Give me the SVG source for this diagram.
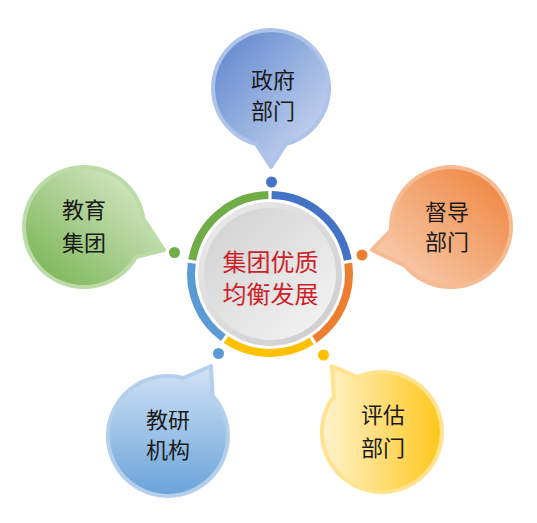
<svg xmlns="http://www.w3.org/2000/svg" width="537" height="523" viewBox="0 0 537 523">
<style>
.lbl{font-family:"Noto Sans CJK SC","Noto Sans",sans-serif;font-size:22px;fill:#1a1a1a;text-anchor:middle}
.ctr{font-family:"Noto Sans CJK SC","Noto Sans",sans-serif;font-size:24px;fill:#cc1f2a;text-anchor:middle}
.bub{stroke-width:4;stroke-linejoin:round}
.seg{fill:none;stroke-width:8}
</style>
<defs>
<linearGradient id="gBlue" x1="0" y1="0" x2="1" y2="1"><stop offset="0" stop-color="#5b82cc"/><stop offset="1" stop-color="#d6e1f4"/></linearGradient>
<linearGradient id="gOrange" x1="1" y1="0" x2="0" y2="1"><stop offset="0" stop-color="#ee8138"/><stop offset="1" stop-color="#f9d6bd"/></linearGradient>
<linearGradient id="gGreen" x1="0" y1="1" x2="1" y2="0"><stop offset="0" stop-color="#73b04a"/><stop offset="1" stop-color="#e2f0d8"/></linearGradient>
<linearGradient id="gLBlue" x1="0" y1="0" x2="0" y2="1"><stop offset="0" stop-color="#d2e3f4"/><stop offset="1" stop-color="#6aa3da"/></linearGradient>
<linearGradient id="gYellow" x1="0" y1="0" x2="1" y2="0"><stop offset="0" stop-color="#fff3cf"/><stop offset="1" stop-color="#ffc71a"/></linearGradient>
<linearGradient id="gRim" x1="0" y1="0" x2="1" y2="1"><stop offset="0" stop-color="#ececec"/><stop offset="1" stop-color="#cbcbcb"/></linearGradient>
<linearGradient id="gFace" x1="0" y1="0" x2="1" y2="1"><stop offset="0" stop-color="#cfcfcf"/><stop offset="1" stop-color="#f6f6f6"/></linearGradient>
</defs>

<g id="connectors">
<circle cx="271.5" cy="182" r="5.5" fill="#4472c4"/>
<circle cx="362" cy="255" r="5.5" fill="#ed7d31"/>
<circle cx="323.5" cy="355" r="5.5" fill="#ffc000"/>
<circle cx="218.5" cy="353.5" r="5.5" fill="#5b9bd5"/>
<circle cx="174.5" cy="252.5" r="5.5" fill="#70ad47"/>
</g>

<g id="center">
<path class="seg" stroke="#4472c4" d="M271.65 195.02 A79 79 0 0 1 347.75 260.01"/>
<path class="seg" stroke="#ed7d31" d="M348.27 263.28 A79 79 0 0 1 314.40 339.34"/>
<path class="seg" stroke="#ffc000" d="M311.63 341.14 A79 79 0 0 1 226.05 339.65"/>
<path class="seg" stroke="#5b9bd5" d="M223.34 337.75 A79 79 0 0 1 191.73 263.28"/>
<path class="seg" stroke="#70ad47" d="M192.25 260.01 A79 79 0 0 1 268.35 195.02"/>
<circle cx="270" cy="274" r="72" fill="url(#gRim)"/>
<circle cx="270" cy="274" r="66" fill="url(#gFace)"/>
<text class="ctr" x="270.5" y="271">集团优质</text>
<text class="ctr" x="270.5" y="303">均衡发展</text>
</g>

<g id="node-zhengfu">
<path class="bub" fill="url(#gBlue)" stroke="#adc3e9" d="M271 167 L256 144 A58 58 0 1 1 286 144 Z"/>
<text class="lbl" x="273" y="88">政府</text>
<text class="lbl" x="273" y="119">部门</text>
</g>

<g id="node-dudao">
<path class="bub" fill="url(#gOrange)" stroke="#f6bb93" d="M372 250 L391.1 230.1 A60 60 0 1 1 405 265.6 Z"/>
<text class="lbl" x="447" y="220">督导</text>
<text class="lbl" x="447" y="250">部门</text>
</g>

<g id="node-pinggu">
<path class="bub" fill="url(#gYellow)" stroke="#ffe38f" d="M332 366 L357.6 377.2 A60 60 0 1 1 333.9 396.1 Z"/>
<text class="lbl" x="383" y="423">评估</text>
<text class="lbl" x="383" y="456">部门</text>
</g>

<g id="node-jiaoyan">
<path class="bub" fill="url(#gLBlue)" stroke="#b3cfeb" d="M211 366 L212.6 395.9 A60 60 0 1 1 183.5 378 Z"/>
<text class="lbl" x="168" y="428">教研</text>
<text class="lbl" x="168" y="458">机构</text>
</g>

<g id="node-jiaoyu">
<path class="bub" fill="url(#gGreen)" stroke="#bcdca7" d="M164 250 L136 257 A60 60 0 1 1 143.4 218.6 Z"/>
<text class="lbl" x="84" y="218">教育</text>
<text class="lbl" x="84" y="251">集团</text>
</g>
</svg>
